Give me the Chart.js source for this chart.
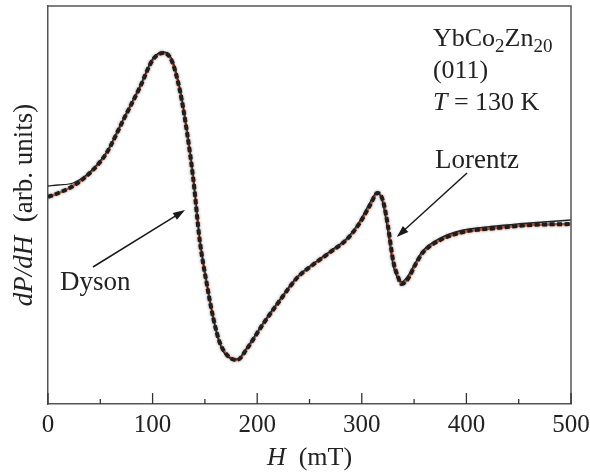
<!DOCTYPE html>
<html>
<head>
<meta charset="utf-8">
<script src="https://cdn.jsdelivr.net/npm/chart.js@4.4.1/dist/chart.umd.min.js"></script>
<style>
  html, body { margin: 0; padding: 0; background: #fff; }
  #wrap { width: 590px; height: 473px; }
</style>
</head>
<body>
<div id="wrap"><canvas id="c" width="590" height="473"></canvas></div>
<script>
// field H (mT) and dP/dH (arb. units)
var fieldH   = [0, 10, 24, 40, 56, 72, 88, 100, 110, 118, 126, 133, 139, 145, 152, 158, 164, 172, 181, 190, 205, 222, 238, 253, 270, 286, 298, 308, 315, 320, 325, 330, 334, 338, 344, 351, 358, 375, 397, 429, 461, 500];
var fitCurve = [207, 211, 218, 231, 251, 284, 317, 344, 351, 344, 314, 271, 224, 164, 119, 86, 62, 48, 44, 55, 79, 104, 126, 139, 152, 165, 181, 199, 211, 204, 178, 143, 129, 120, 125, 139, 151, 164, 172, 176, 179, 180];
var measured = [218, 219, 221, 232, 252, 285, 318, 345, 352, 346, 316, 273, 226, 166, 120, 86, 61, 47, 45, 56, 80, 105, 127, 140, 153, 166, 183, 202, 212, 201, 172, 138, 126, 122, 128, 141, 153, 166, 174, 178, 181, 184];
var majorTicks = [0, 100, 200, 300, 400, 500];
var minorTicks = [50, 150, 250, 350, 450];

var serif = "'Liberation Serif', 'Times New Roman', serif";
var ink = "#222";

function pts(ys) {
  return fieldH.map(function (h, i) { return { x: h, y: ys[i] }; });
}

// grey halo around the thick data trace
var haloPlugin = {
  id: 'halo',
  beforeDatasetDraw: function (chart, args) {
    if (args.index !== 1) return;
    var ctx = chart.ctx;
    ctx.save();
    ctx.shadowColor = 'rgba(0,0,0,0.5)';
    ctx.shadowBlur = 3;
  },
  afterDatasetDraw: function (chart, args) {
    if (args.index !== 1) return;
    chart.ctx.restore();
  }
};

// frame, inward ticks, axis titles and annotations
var decorPlugin = {
  id: 'decor',
  afterDraw: function (chart) {
    var ctx = chart.ctx;
    var a = chart.chartArea;
    var xs = chart.scales.x, ys = chart.scales.y;
    ctx.save();
    ctx.strokeStyle = '#555';
    ctx.lineWidth = 1.5;
    ctx.beginPath();
    ctx.moveTo(a.left, a.top); ctx.lineTo(a.right, a.top); ctx.lineTo(a.right, a.bottom);
    ctx.stroke();

    ctx.strokeStyle = '#333';
    ctx.lineWidth = 1.3;
    majorTicks.forEach(function (v) {
      var px = xs.getPixelForValue(v);
      ctx.beginPath(); ctx.moveTo(px, a.bottom); ctx.lineTo(px, a.bottom - 11); ctx.stroke();
    });
    minorTicks.forEach(function (v) {
      var px = xs.getPixelForValue(v);
      ctx.beginPath(); ctx.moveTo(px, a.bottom); ctx.lineTo(px, a.bottom - 5); ctx.stroke();
    });

    ctx.fillStyle = ink;
    ctx.textBaseline = 'alphabetic';
    ctx.textAlign = 'left';

    // x title: H (mT)
    var it = 'italic 26px ' + serif, rm = '26px ' + serif;
    ctx.font = it; var w1 = ctx.measureText('H').width;
    ctx.font = rm; var w2 = ctx.measureText('  (mT)').width;
    var cx = (a.left + a.right) / 2, x0 = cx - (w1 + w2) / 2;
    ctx.font = it; ctx.fillText('H', x0, 465);
    ctx.font = rm; ctx.fillText('  (mT)', x0 + w1, 465);

    // y title: dP/dH (arb. units)
    ctx.save();
    ctx.translate(32, (a.top + a.bottom) / 2);
    ctx.rotate(-Math.PI / 2);
    var yit = 'italic 27px ' + serif, yrm = '27px ' + serif;
    ctx.font = yit; var w3 = ctx.measureText('dP/dH').width;
    ctx.font = yrm; var w4 = ctx.measureText('  (arb. units)').width;
    var y0 = -(w3 + w4) / 2;
    ctx.font = yit; ctx.fillText('dP/dH', y0, 0);
    ctx.font = yrm; ctx.fillText('  (arb. units)', y0 + w3, 0);
    ctx.restore();

    function P(h, v) { return [xs.getPixelForValue(h), ys.getPixelForValue(v)]; }

    // sample label block
    var p = P(368, 358);
    var x = p[0], y = p[1];
    var sub = '19px ' + serif;
    ctx.font = rm; ctx.fillText('YbCo', x, y); x += ctx.measureText('YbCo').width;
    ctx.font = sub; ctx.fillText('2', x, y + 6); x += ctx.measureText('2').width;
    ctx.font = rm; ctx.fillText('Zn', x, y); x += ctx.measureText('Zn').width;
    ctx.font = sub; ctx.fillText('20', x, y + 6);

    p = P(368, 326);
    ctx.font = rm; ctx.fillText('(011)', p[0], p[1]);

    p = P(368, 294);
    ctx.font = it; ctx.fillText('T', p[0], p[1]);
    var tw = ctx.measureText('T').width;
    ctx.font = rm; ctx.fillText(' = 130 K', p[0] + tw, p[1]);

    // labels with arrows
    var lab = '27px ' + serif;
    ctx.font = lab;
    p = P(370, 236);
    ctx.fillText('Lorentz', p[0], p[1]);
    p = P(11.5, 114);
    ctx.fillText('Dyson', p[0], p[1]);

    function arrow(h1, v1, h2, v2) {
      var s = P(h1, v1), e = P(h2, v2);
      var ang = Math.atan2(e[1] - s[1], e[0] - s[0]);
      var L = 12, W = 4;
      ctx.strokeStyle = '#1a1a1a';
      ctx.fillStyle = '#1a1a1a';
      ctx.lineWidth = 1.5;
      ctx.beginPath();
      ctx.moveTo(s[0], s[1]);
      ctx.lineTo(e[0] - L * 0.8 * Math.cos(ang), e[1] - L * 0.8 * Math.sin(ang));
      ctx.stroke();
      ctx.beginPath();
      ctx.moveTo(e[0], e[1]);
      ctx.lineTo(e[0] - L * Math.cos(ang) + W * Math.sin(ang), e[1] - L * Math.sin(ang) - W * Math.cos(ang));
      ctx.lineTo(e[0] - L * Math.cos(ang) - W * Math.sin(ang), e[1] - L * Math.sin(ang) + W * Math.cos(ang));
      ctx.closePath();
      ctx.fill();
    }
    arrow(400.6, 231, 333.4, 167);
    arrow(43, 137, 131, 194);

    ctx.restore();
  }
};

new Chart(document.getElementById('c').getContext('2d'), {
  type: 'line',
  data: {
    datasets: [
      {
        label: 'measured',
        data: pts(measured),
        borderColor: '#222',
        borderWidth: 1.3,
        pointRadius: 0,
        cubicInterpolationMode: 'monotone',
        order: 1
      },
      {
        label: 'data',
        data: pts(fitCurve),
        borderColor: '#1c1c1c',
        borderWidth: 4,
        borderDash: [5, 2.5],
        pointRadius: 0,
        cubicInterpolationMode: 'monotone',
        order: 2
      },
      {
        label: 'fit',
        data: pts(fitCurve),
        borderColor: '#ef5a28',
        borderWidth: 2.6,
        pointRadius: 0,
        cubicInterpolationMode: 'monotone',
        order: 3
      }
    ]
  },
  options: {
    responsive: false,
    animation: false,
    devicePixelRatio: 1,
    layout: { padding: { top: 6, right: 19, left: 0, bottom: 0 } },
    plugins: { legend: { display: false }, tooltip: { enabled: false } },
    scales: {
      x: {
        type: 'linear',
        min: 0,
        max: 500,
        afterBuildTicks: function (s) { s.ticks = majorTicks.map(function (v) { return { value: v }; }); },
        ticks: { color: ink, font: { family: serif, size: 25 }, padding: 6, maxRotation: 0 },
        grid: { display: false, drawTicks: false },
        border: { display: true, color: '#555', width: 1.5 },
        afterFit: function (s) { s.height = 69; s.paddingLeft = 0; s.paddingRight = 0; }
      },
      y: {
        min: 0,
        max: 398,
        ticks: { display: false },
        grid: { display: false, drawTicks: false },
        border: { display: true, color: '#555', width: 1.5 },
        afterFit: function (s) { s.width = 48; }
      }
    }
  },
  plugins: [haloPlugin, decorPlugin]
});
</script>
</body>
</html>
